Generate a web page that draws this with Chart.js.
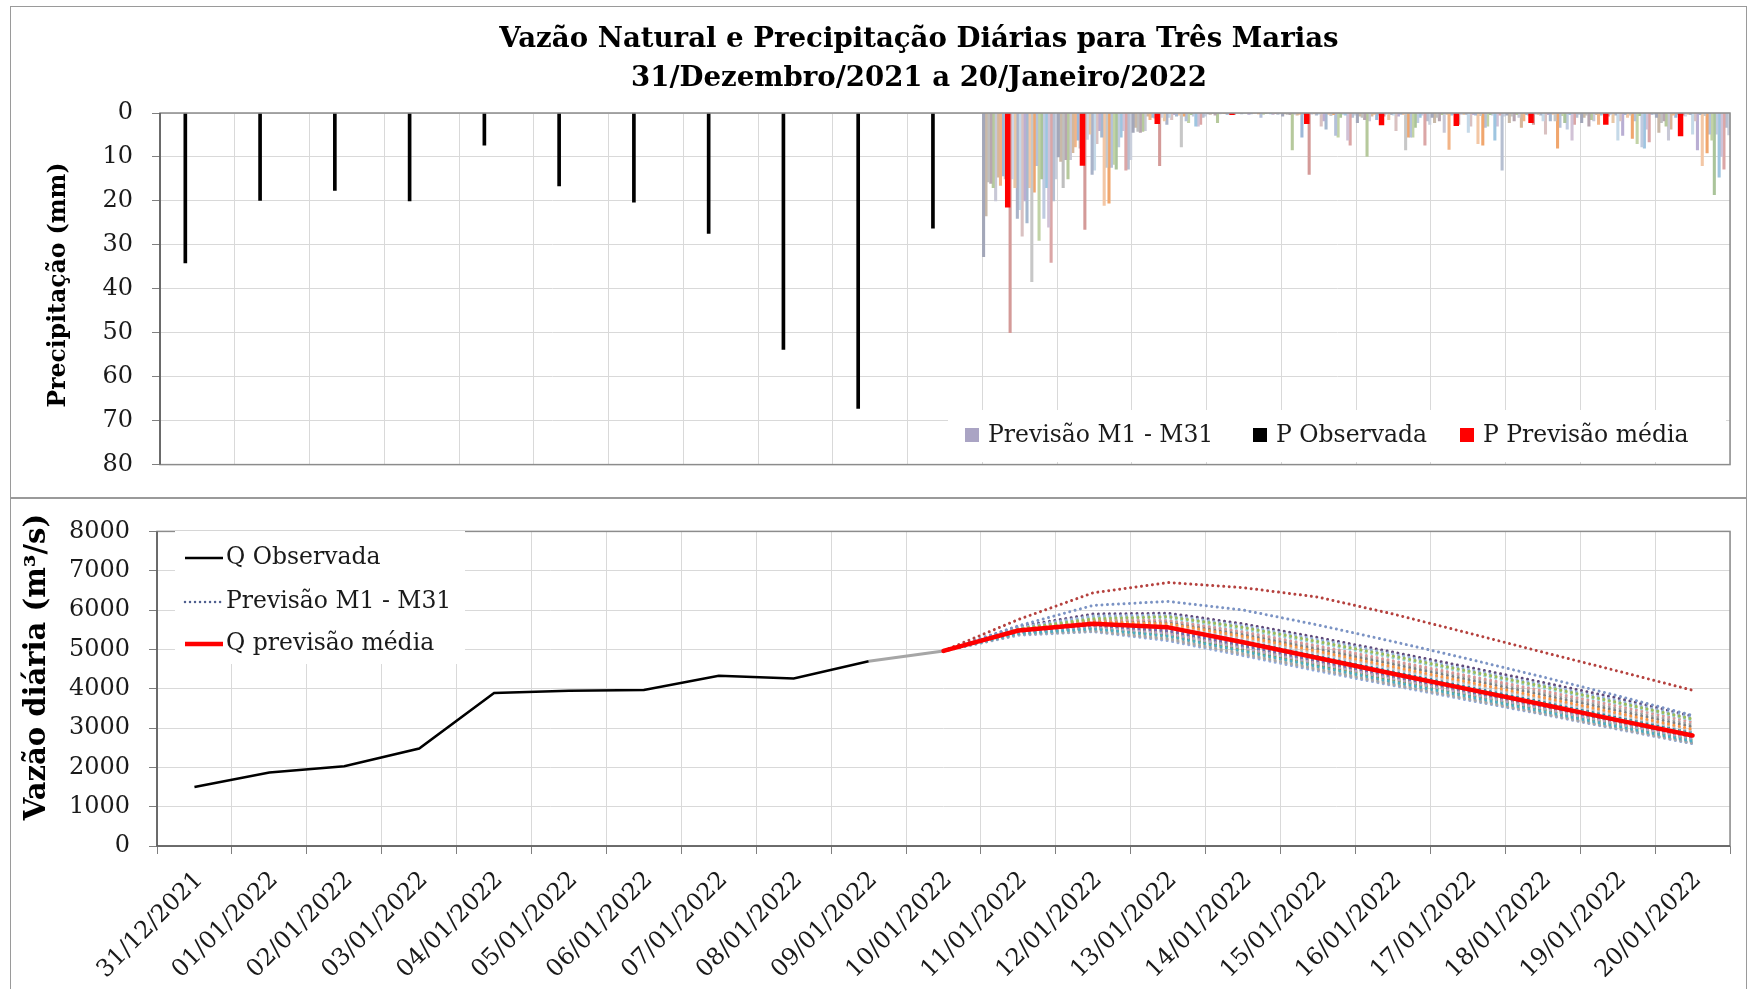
<!DOCTYPE html>
<html><head><meta charset="utf-8">
<script src="https://cdn.jsdelivr.net/npm/chart.js@4/dist/chart.umd.min.js"></script>
<style>
html,body{margin:0;padding:0;background:#fff;}
#wrap{position:relative;width:1748px;height:989px;overflow:hidden;background:#fff;}
#c1{position:absolute;left:0;top:0;}
#c2{position:absolute;left:0;top:498px;}
.frame{position:absolute;border:1.5px solid #9a9a9a;box-sizing:border-box;pointer-events:none;}
</style></head><body>
<div id="wrap">
<canvas id="c1" width="1748" height="498"></canvas>
<canvas id="c2" width="1748" height="491"></canvas>
<div class="frame" style="left:10px;top:6px;width:1737px;height:493px"></div>
<div class="frame" style="left:10px;top:497px;width:1737px;height:500px"></div>
</div>
<script>
// ---------- DATA ----------
const titleLines = ['Vazão Natural e Precipitação Diárias para Três Marias', '31/Dezembro/2021 a 20/Janeiro/2022'];
const dates = ['31/12/2021','01/01/2022','02/01/2022','03/01/2022','04/01/2022','05/01/2022','06/01/2022','07/01/2022','08/01/2022','09/01/2022','10/01/2022','11/01/2022','12/01/2022','13/01/2022','14/01/2022','15/01/2022','16/01/2022','17/01/2022','18/01/2022','19/01/2022','20/01/2022'];
const yTitleTop = 'Precipitação (mm)';
const yTitleBottom = 'Vazão diária (m³/s)';
const precipTicks = [0,10,20,30,40,50,60,70,80];
const flowTicks = [0,1000,2000,3000,4000,5000,6000,7000,8000];

// observed precipitation, 31/12/2021 .. 10/01/2022 (mm)
const pObserved = [34.1,19.9,17.6,20,7.3,16.6,20.3,27.4,53.8,67.2,26.2];
// mean forecast precipitation, 11/01 .. 20/01 (mm)
const pMeanForecast = [21.4,11.9,2.4,0.4,2.4,2.7,2.9,2.2,2.6,5.2];
// ensemble members M1..M31 forecast precipitation, one row per day 11/01 .. 20/01 (mm)
const pMembersDay11 = [32.7,23.4,15.7,16,17,20,14.6,16.5,14.3,15,18,50,15,17,24,22,28,20,25,17,38.4,18,12,29,15,24,17,26,34,20,15];
const pMembersDay12 = [10,11,17,10.6,15,10.6,9,7.7,6.2,8,9,26.5,6,4.8,14,13,7,4,5.5,21,12.4,20.5,12.4,11.7,12.8,7.7,5.5,4,13,12.8,10.6];
const pMembersDay13 = [4.4,3.3,4.2,4.4,4.2,4,0.7,1.5,1,1.2,1.5,12,1,1.8,2.6,1,1.5,0.4,0.7,0.5,7.7,0.7,1.8,2.2,0.4,0.7,3,3,2.6,1,0.7];
const pMembersDay14 = [0.2,0.3,0.1,0.5,2.2,0.2,0,0.1,0.3,0.2,0.4,0.3,0.1,0,0.2,0.1,0,0.3,0.2,0.1,0,0.2,1,0.3,0.1,0,0.2,0.4,0.1,0.3,0.2];
const pMembersDay15 = [0.7,0.2,0.3,0.4,8.4,0.3,0.5,0.3,5.5,0.4,2,14,0.3,0.2,0.5,0.3,3,1.8,3.7,0.3,0.6,0.4,5.1,5.5,1,0.3,0.5,6.2,7.3,1,0.5];
const pMembersDay16 = [2.2,0.7,1,1.5,9.9,1.8,0.7,0.3,1.5,0.5,2,0.7,0.3,1.5,0.4,0.5,4,0.7,0.3,0.4,8.4,5.5,5.5,5.5,3.3,2.2,1,0.5,7.3,1.8,2.6];
const pMembersDay17 = [1,2.2,1,1.8,0.4,4.4,0.3,8.3,0.5,0.3,1.5,2.6,0.4,0.4,0.3,4.4,3,0.4,0.5,7,0.6,7.3,3.3,3,0.4,0.5,6.2,3,0.5,13,0.7];
const pMembersDay18 = [0.5,2.2,0.7,1.8,0.4,1,3.3,1.8,0.4,0.5,1,2.6,0.3,0.4,0.5,1.8,4.8,0.4,1.8,0.3,1.8,8,3.3,0.6,2.2,3.7,0.4,6.2,2.6,1,0.4];
const pMembersDay19 = [2.2,1,0.5,3,1.5,1.8,0.4,2.6,0.5,0.3,1.5,0.7,0.4,2.2,0.5,6.2,1.8,5.1,0.4,1,0.5,5.8,1.8,7,0.6,7.7,8,3.7,6.6,0.4,0.3];
const pMembersDay20 = [1,4.4,2.2,1.8,3,6.2,3.7,0.5,1,0.4,3,0.5,0.7,0.3,0.4,4.8,1.8,8.4,0.4,12,0.6,9.1,4.8,6.2,18.6,4.8,14.6,9.9,12.8,3.3,5];
const pMembersByDay = [pMembersDay11,pMembersDay12,pMembersDay13,pMembersDay14,pMembersDay15,pMembersDay16,pMembersDay17,pMembersDay18,pMembersDay19,pMembersDay20];

// observed natural flow 31/12 .. 09/01 (m3/s)
const qObserved = [1500,1870,2030,2480,3890,3950,3970,4330,4260,4700];
// link 09/01 -> 10/01
const qLink = [4700,4960];
// mean forecast flow 10/01 .. 20/01
const qMean = [4960,5480,5650,5560,5180,4780,4380,3990,3600,3200,2810];
// ensemble members 10/01 .. 20/01
const qM1  = [4960,5760,6440,6700,6570,6330,5900,5420,4930,4450,3960];
const qM2  = [4960,5600,6120,6220,6000,5620,5200,4760,4300,3820,3320];
const qM3  = [4960,5520,5780,5830,5560,5200,4830,4450,4060,3650,3230];
const qM4  = [4960,5450,5620,5480,5120,4720,4330,3950,3560,3170,2780];
const qM5  = [4960,5400,5520,5330,4950,4560,4170,3800,3420,3040,2660];
const qM6  = [4960,5500,5700,5650,5330,4950,4560,4170,3780,3380,2970];
const qM7  = [4960,5380,5470,5260,4880,4490,4110,3740,3370,2990,2620];
const qM8  = [4960,5560,5850,5870,5600,5250,4880,4490,4100,3700,3260];
const qM9  = [4960,5470,5640,5520,5170,4780,4390,4000,3620,3220,2830];
const qM10 = [4960,5430,5560,5400,5030,4640,4250,3870,3490,3100,2720];
const qM11 = [4960,5540,5810,5800,5510,5160,4790,4410,4020,3620,3200];
const qM12 = [4960,5410,5500,5300,4920,4530,4150,3770,3400,3020,2640];
const qM13 = [4960,5490,5680,5610,5280,4900,4510,4120,3730,3330,2930];
const qM14 = [4960,5360,5450,5220,4840,4450,4080,3710,3350,2970,2600];
const qM15 = [4960,5530,5760,5740,5450,5090,4710,4330,3950,3560,3150];
const qM16 = [4960,5460,5600,5460,5090,4700,4310,3930,3550,3160,2770];
const qM17 = [4960,5420,5540,5370,5000,4610,4230,3850,3470,3090,2700];
const qM18 = [4960,5580,5900,5920,5650,5300,4930,4550,4160,3760,3300];
const qM19 = [4960,5480,5660,5570,5210,4820,4430,4040,3660,3270,2880];
const qM20 = [4960,5440,5580,5430,5060,4670,4280,3900,3520,3130,2750];
const qM21 = [4960,5510,5720,5680,5370,5000,4620,4230,3840,3440,3030];
const qM22 = [4960,5390,5490,5280,4900,4510,4130,3760,3390,3010,2630];
const qM23 = [4960,5550,5830,5840,5540,5180,4800,4420,4040,3640,3220];
const qM24 = [4960,5450,5610,5490,5140,4750,4360,3970,3590,3190,2800];
const qM25 = [4960,5470,5650,5550,5200,4810,4420,4030,3640,3240,2850];
const qM26 = [4960,5370,5460,5240,4860,4480,4100,3730,3360,2980,2610];
const qM27 = [4960,5520,5750,5720,5420,5050,4670,4290,3900,3500,3090];
const qM28 = [4960,5430,5570,5410,5040,4650,4270,3890,3510,3120,2740];
const qM29 = [4960,5500,5690,5630,5300,4920,4530,4150,3760,3360,2960];
const qM30 = [4960,5410,5530,5350,4970,4580,4200,3830,3450,3060,2680];
const qM31 = [4960,5490,5670,5590,5250,4870,4480,4090,3700,3300,2900];
const qMembers = [qM1,qM2,qM3,qM4,qM5,qM6,qM7,qM8,qM9,qM10,qM11,qM12,qM13,qM14,qM15,qM16,qM17,qM18,qM19,qM20,qM21,qM22,qM23,qM24,qM25,qM26,qM27,qM28,qM29,qM30,qM31];

// ---------- STYLE ----------
const FONT = "'DejaVu Serif', serif";
const GRID = '#d9d9d9';
const TXT = '#1a1a1a';
const barMemberColors = ['#a3a7b9','#c9b9a8','#bfbfbf','#b7a6b0','#b6c99c','#c8c8d6','#d6b79a','#f2b487','#9db8d8','#c4c4c4','#b0a8c4','#d49a98','#cfd6e6','#e8c7a6','#a9b3c9','#c5d9e8','#d9c1c1','#b9aed3','#a5b8cf','#f3c7a5','#c7c7c7','#f0a66d','#b4c1d9','#c2d3a6','#aac49a','#bfcbe0','#9ec5e0','#d1c2d6','#dba6a6','#b6bfd1','#c9cfdc'];
const lineMemberColors = ['#b5413e','#7b93c4','#9bbb59','#8064a2','#4bacc6','#f79646','#a5a5a5','#95b3d7','#c3d69b','#b2a2c7','#93cddd','#fac090','#bfbfbf','#8ea9db','#d99694','#4f81bd','#76923c','#5f497a','#31859c','#e46c0a','#7f7f7f','#b8cce4','#d7e4bd','#ccc1da','#b7dee8','#fcd5b5','#a6a6a6','#8db3e2','#e6b9b8','#9bbb59','#c5d9f1'];

const topLegend = [
  {text:'Previsão M1 - M31', color:'#aaa4c4', x:965},
  {text:'P Observada', color:'#000000', x:1253},
  {text:'P Previsão média', color:'#ff0000', x:1460}
];
const bottomLegend = [
  {text:'Q Observada', color:'#000000', width:2.5, dash:[]},
  {text:'Previsão M1 - M31', color:'#4f5f8f', width:2.5, dash:[0.01,5]},
  {text:'Q previsão média', color:'#ff0000', width:4.5, dash:[]}
];

// ---------- TOP CHART (precipitation) ----------
// each day is one unit on a linear x scale; the 31 members fill the day side by side,
// observed / mean bars sit in the 11th slot (about one third into the day)
const nMembers = 31;
const slotX = (dayIdx, slot) => dayIdx - 0.5 + (slot + 0.5) / nMembers;
const OBS_SLOT = 10;
const nObs = pObserved.length; // 11
const topDatasets = [];
topDatasets.push({label:'P Observada', data: pObserved.map((v,i)=>({x: slotX(i, OBS_SLOT), y: v})),
  backgroundColor:'#000000', borderWidth:0, grouped:false, barThickness:3});
topDatasets.push({label:'P Previsão média', data: pMeanForecast.map((v,i)=>({x: slotX(nObs+i, OBS_SLOT), y: v})),
  backgroundColor:'#ff0000', borderWidth:0, grouped:false, barThickness:4.8});
for (let j = 0; j < nMembers; j++) {
  topDatasets.push({label:'M'+(j+1), data: pMembersByDay.map((row,d)=>({x: slotX(nObs+d, j), y: row[j]})),
    backgroundColor: barMemberColors[j], borderWidth:0, grouped:false, categoryPercentage:1, barPercentage:1});
}

const topDecor = {
  id:'topDecor',
  afterDraw(chart){
    const ctx = chart.ctx, a = chart.chartArea;
    ctx.save();
    ctx.strokeStyle = '#8c8c8c'; ctx.lineWidth = 1.5;
    ctx.strokeRect(a.left, a.top, a.right-a.left, a.bottom-a.top);
    ctx.strokeStyle = '#595959'; ctx.beginPath(); ctx.moveTo(a.left, a.top); ctx.lineTo(a.left, a.bottom); ctx.stroke();
    // title
    ctx.fillStyle = '#000'; ctx.textAlign = 'center'; ctx.textBaseline = 'alphabetic';
    ctx.font = `bold 27.6px ${FONT}`;
    ctx.fillText(titleLines[0], 919, 47);
    ctx.fillText(titleLines[1], 919, 86);
    // y title
    ctx.save(); ctx.translate(59, 285); ctx.rotate(-Math.PI/2);
    ctx.textBaseline = 'middle'; ctx.font = `bold 23.5px ${FONT}`; ctx.fillText(yTitleTop, 0, 0); ctx.restore();
    // legend
    ctx.fillStyle = '#fff'; ctx.fillRect(948, 410, 778, 52);
    ctx.font = `23.5px ${FONT}`; ctx.textAlign = 'left'; ctx.textBaseline = 'middle';
    topLegend.forEach(it => {
      ctx.fillStyle = it.color; ctx.fillRect(it.x, 428, 14, 14);
      ctx.fillStyle = TXT; ctx.fillText(it.text, it.x + 23, 436);
    });
    ctx.restore();
  }
};

new Chart(document.getElementById('c1'), {
  type:'bar',
  data:{datasets:topDatasets},
  options:{
    responsive:false, animation:false, events:[],
    layout:{padding:{left:0, right:18, top:113, bottom:21}},
    plugins:{legend:{display:false}, title:{display:false}, tooltip:{enabled:false}},
    scales:{
      x:{type:'linear', min:-0.5, max:dates.length-0.5, offset:false,
         afterBuildTicks(s){ s.ticks = dates.concat(['']).map((d,i)=>({value:i-0.5})); },
         grid:{offset:false, color:GRID, drawTicks:false}, ticks:{display:false},
         border:{display:false}, afterFit(s){ s.height = 0; }},
      y:{type:'linear', reverse:true, min:0, max:80, stacked:false,
         afterBuildTicks(s){ s.ticks = precipTicks.map(v=>({value:v})); },
         ticks:{font:{family:FONT, size:24}, color:TXT, padding:19, callback:v=>String(v)},
         grid:{color:GRID, tickLength:8, tickColor:'#7f7f7f'}, border:{display:false},
         afterFit(s){ s.width = 160; }}
    }
  },
  plugins:[topDecor]
});

// ---------- BOTTOM CHART (flow) ----------
const iFc = dates.indexOf('10/01/2022'); // 10
const botDatasets = [];
botDatasets.push({label:'Q previsão média', data: dates.map((d,i)=> i >= iFc ? qMean[i-iFc] : null),
  borderColor:'#ff0000', borderWidth:4.5, pointRadius:0, tension:0, borderCapStyle:'round', borderJoinStyle:'round'});
botDatasets.push({label:'Q Observada', data: dates.map((d,i)=> i < qObserved.length ? qObserved[i] : null),
  borderColor:'#000000', borderWidth:2.5, pointRadius:0, tension:0});
botDatasets.push({label:'link', data: dates.map((d,i)=> (i === iFc-1 || i === iFc) ? qLink[i-(iFc-1)] : null),
  borderColor:'#a6a6a6', borderWidth:3, pointRadius:0, tension:0});
qMembers.forEach((m, j) => {
  botDatasets.push({label:'M'+(j+1), data: dates.map((d,i)=> i >= iFc ? m[i-iFc] : null),
    borderColor: lineMemberColors[j], borderWidth:3, borderDash:[0.01,5.5], borderCapStyle:'round',
    pointRadius:0, tension:0});
});

const botDecor = {
  id:'botDecor',
  afterDraw(chart){
    const ctx = chart.ctx, a = chart.chartArea;
    ctx.save();
    ctx.strokeStyle = '#8c8c8c'; ctx.lineWidth = 1.5;
    ctx.strokeRect(a.left, a.top, a.right-a.left, a.bottom-a.top);
    ctx.strokeStyle = '#595959'; ctx.beginPath();
    ctx.moveTo(a.left, a.top); ctx.lineTo(a.left, a.bottom); ctx.lineTo(a.right, a.bottom); ctx.stroke();
    // y title
    ctx.save(); ctx.translate(37, 169); ctx.rotate(-Math.PI/2);
    ctx.fillStyle = '#000'; ctx.textAlign = 'center'; ctx.textBaseline = 'middle';
    ctx.font = `bold 29px ${FONT}`; ctx.fillText(yTitleBottom, 0, 0); ctx.restore();
    // legend
    ctx.fillStyle = '#fff'; ctx.fillRect(175, 33, 290, 133);
    ctx.font = `23.5px ${FONT}`; ctx.textAlign = 'left'; ctx.textBaseline = 'middle';
    const ys = [60, 104, 146];
    bottomLegend.forEach((it, k) => {
      ctx.save();
      ctx.strokeStyle = it.color; ctx.lineWidth = it.width; ctx.setLineDash(it.dash);
      ctx.lineCap = it.dash.length ? 'round' : 'butt';
      ctx.beginPath(); ctx.moveTo(185, ys[k]); ctx.lineTo(223, ys[k]); ctx.stroke();
      ctx.restore();
      ctx.fillStyle = TXT; ctx.fillText(it.text, 226, ys[k]);
    });
    ctx.restore();
  }
};

new Chart(document.getElementById('c2'), {
  type:'line',
  data:{labels:dates, datasets:botDatasets},
  options:{
    responsive:false, animation:false, events:[],
    layout:{padding:{left:0, right:18, top:25, bottom:0}},
    plugins:{legend:{display:false}, title:{display:false}, tooltip:{enabled:false}},
    scales:{
      x:{type:'category', offset:true, grid:{offset:true, color:GRID, tickLength:8, tickColor:'#7f7f7f'},
         ticks:{font:{family:FONT, size:24}, color:TXT, minRotation:45, maxRotation:45, autoSkip:false, padding:12, labelOffset:5},
         border:{display:false}, afterFit(s){ s.height = 143; }},
      y:{type:'linear', min:0, max:8000,
         afterBuildTicks(s){ s.ticks = flowTicks.map(v=>({value:v})); },
         ticks:{font:{family:FONT, size:24}, color:TXT, padding:19, callback:v=>String(v)},
         grid:{color:GRID, tickLength:8, tickColor:'#7f7f7f'}, border:{display:false},
         afterFit(s){ s.width = 157; }}
    }
  },
  plugins:[botDecor]
});
</script>
</body></html>
